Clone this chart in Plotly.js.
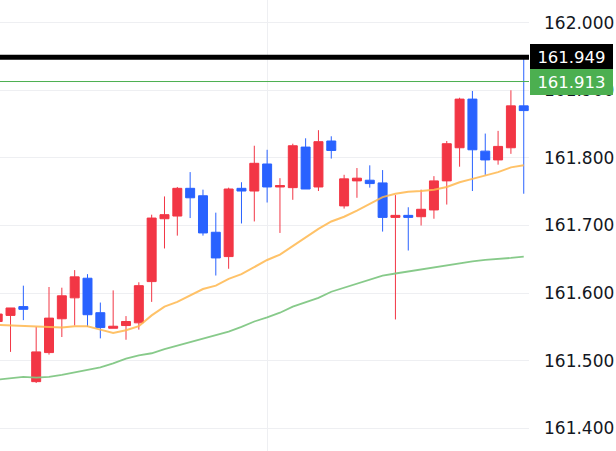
<!DOCTYPE html>
<html><head><meta charset="utf-8">
<script src="https://cdn.plot.ly/plotly-3.0.1.min.js"></script>
<style>html,body{margin:0;padding:0;background:#fff;}#chart{width:616px;height:451px;}</style>
</head><body><div id="chart"></div>
<script>
const opens  = [161.558,161.567,161.580,161.469,161.512,161.562,161.593,161.622,161.571,161.548,161.552,161.556,161.617,161.710,161.714,161.755,161.744,161.690,161.654,161.755,161.751,161.791,161.757,161.756,161.816,161.757,161.825,161.729,161.766,161.767,161.763,161.712,161.715,161.713,161.723,161.766,161.815,161.887,161.810,161.797,161.815,161.877];
const highs  = [161.572,161.578,161.611,161.550,161.609,161.608,161.634,161.628,161.586,161.604,161.566,161.616,161.716,161.743,161.757,161.779,161.753,161.719,161.756,161.764,161.818,161.812,161.770,161.821,161.829,161.841,161.832,161.775,161.785,161.789,161.782,161.745,161.727,161.753,161.773,161.825,161.889,161.899,161.836,161.840,161.900,161.949];
const lows   = [161.556,161.513,161.560,161.467,161.509,161.535,161.552,161.550,161.533,161.548,161.531,161.546,161.587,161.666,161.685,161.711,161.685,161.626,161.636,161.703,161.706,161.734,161.689,161.738,161.754,161.751,161.799,161.725,161.741,161.756,161.691,161.561,161.663,161.700,161.710,161.731,161.787,161.751,161.775,161.790,161.806,161.747];
const closes = [161.569,161.578,161.576,161.513,161.563,161.596,161.624,161.568,161.549,161.551,161.558,161.611,161.711,161.716,161.755,161.741,161.689,161.652,161.754,161.751,161.792,161.757,161.759,161.818,161.754,161.824,161.811,161.769,161.770,161.762,161.712,161.715,161.712,161.724,161.766,161.821,161.887,161.812,161.797,161.817,161.877,161.870];
const maFast = [161.553,161.552,161.552,161.550,161.549,161.549,161.551,161.551,161.546,161.541,161.545,161.551,161.567,161.580,161.587,161.597,161.606,161.611,161.621,161.628,161.639,161.649,161.657,161.670,161.682,161.695,161.706,161.713,161.722,161.732,161.742,161.747,161.750,161.751,161.753,161.757,161.764,161.769,161.774,161.779,161.786,161.789];
const maSlow = [161.472,161.474,161.476,161.475,161.476,161.479,161.483,161.487,161.490,161.496,161.503,161.508,161.511,161.517,161.522,161.528,161.533,161.537,161.543,161.550,161.558,161.564,161.571,161.580,161.586,161.593,161.602,161.608,161.615,161.621,161.626,161.629,161.632,161.635,161.638,161.642,161.645,161.647,161.649,161.650,161.652,161.654];
const tickValues = [161.4,161.5,161.6,161.7,161.8,161.9,162.0];
const tickLabels = ["161.400","161.500","161.600","161.700","161.800","161.900","162.000"];
const highLine = 161.949;
const lastLine = 161.913;
const gridIndex = 21;

const xs = opens.map((_, i) => i);
const RED = '#F23645', BLUE = '#2962FF';
const FONT = 'DejaVu Sans, Verdana, sans-serif';

const data = [
  {type:'scatter', mode:'lines', x:xs, y:maSlow, line:{color:'rgba(129,199,132,0.95)', width:1.8}, hoverinfo:'skip'},
  {type:'scatter', mode:'lines', x:xs, y:maFast, line:{color:'rgba(255,183,77,0.85)', width:2}, hoverinfo:'skip'},
  {type:'candlestick', x:xs, open:opens, high:highs, low:lows, close:closes,
   increasing:{line:{color:RED, width:1}, fillcolor:RED},
   decreasing:{line:{color:BLUE, width:1}, fillcolor:BLUE},
   whiskerwidth:0, hoverinfo:'skip'}
];

const layout = {
  width:616, height:451,
  margin:{l:0, r:87, t:0, b:0, pad:0},
  paper_bgcolor:'#ffffff', plot_bgcolor:'#ffffff',
  showlegend:false,
  boxgap:0.3, boxgroupgap:0,
  xaxis:{range:[0.18, 41.41], rangeslider:{visible:false}, showticklabels:false,
         tickmode:'array', tickvals:[gridIndex], showgrid:true, gridcolor:'#EEEFF2', gridwidth:1,
         zeroline:false, showline:false, ticks:'', fixedrange:true},
  yaxis:{side:'right', range:[161.3664, 162.0336], tickmode:'array', tickvals:tickValues, ticktext:tickLabels,
         showgrid:true, gridcolor:'#EEEFF2', gridwidth:1, zeroline:false, showline:false, ticks:'',
         ticklabelstandoff:14, tickfont:{family:FONT, size:17, color:'#131722'}, fixedrange:true},
  shapes:[
    {type:'line', xref:'paper', x0:0, x1:1, yref:'y', y0:lastLine, y1:lastLine, line:{color:'#4CAF50', width:1}},
    {type:'line', xref:'paper', x0:0, x1:1, yref:'y', y0:highLine, y1:highLine, line:{color:'#000000', width:5}}
  ],
  annotations:[
    {xref:'paper', x:1.002, xanchor:'left', yref:'y', y:highLine, yanchor:'middle', text:highLine.toFixed(3),
     showarrow:false, bgcolor:'#000000', width:83, height:26, borderpad:0, borderwidth:0, align:'center',
     font:{family:FONT, size:16.5, color:'#ffffff'}},
    {xref:'paper', x:1.002, xanchor:'left', yref:'y', y:lastLine, yanchor:'middle', text:lastLine.toFixed(3),
     showarrow:false, bgcolor:'#4CAF50', width:83, height:26, borderpad:0, borderwidth:0, align:'center',
     font:{family:FONT, size:16.5, color:'#ffffff'}}
  ]
};

Plotly.newPlot('chart', data, layout, {displayModeBar:false, staticPlot:true});
</script></body></html>
